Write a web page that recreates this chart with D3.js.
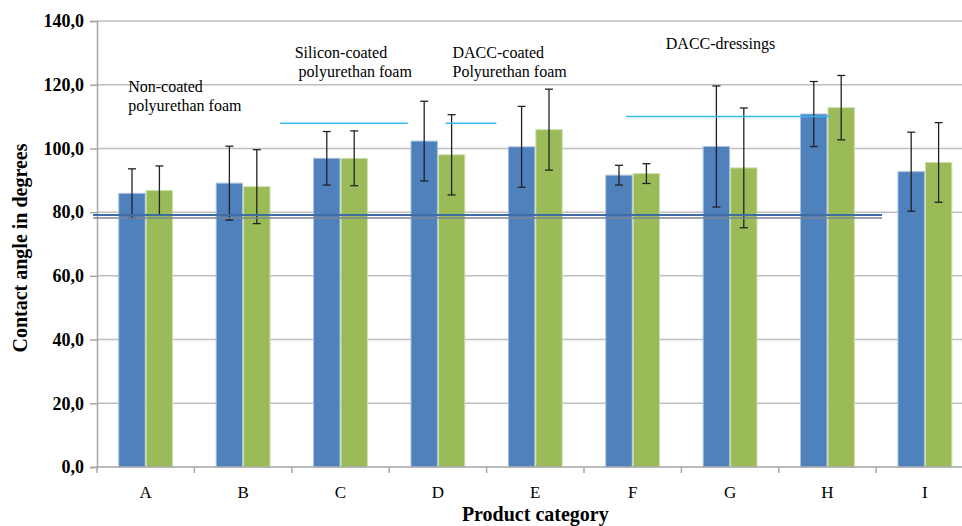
<!DOCTYPE html>
<html>
<head>
<meta charset="utf-8">
<script src="https://cdn.jsdelivr.net/npm/d3@7/dist/d3.min.js"></script>
<style>
  html, body { margin: 0; padding: 0; background: #fff; }
  svg { display: block; }
  text { font-family: "Liberation Serif", "Times New Roman", serif; fill: #000; }
</style>
</head>
<body>
<svg id="chart" width="962" height="526"></svg>
<script>
// ---- data ----
const categories = ["A", "B", "C", "D", "E", "F", "G", "H", "I"];
const seriesNames = ["Series 1", "Series 2"];
const values1 = [85.9, 89.1, 96.9, 102.3, 100.5, 91.6, 100.6, 110.8, 92.7];
const errors1 = [7.7, 11.6, 8.4, 12.5, 12.7, 3.1, 19.0, 10.2, 12.4];
const values2 = [86.8, 88.0, 96.9, 98.0, 105.9, 92.1, 93.9, 112.8, 95.6];
const errors2 = [7.7, 11.6, 8.6, 12.6, 12.7, 3.1, 18.8, 10.1, 12.5];
const yTicks = [0, 20, 40, 60, 80, 100, 120, 140];
// reference lines: value, start / end in category units
const groupLines = [
  { value: 107.9, from: 1.88, to: 3.19 },
  { value: 107.9, from: 3.58, to: 4.10 },
  { value: 110.0, from: 5.43, to: 7.53 }
];
const baseLines = [
  { value: 79.1, from: -0.04, to: 8.06, kind: "blue" },
  { value: 78.2, from: -0.04, to: 8.06, kind: "gray" }
];
// annotation labels: position in category units / value units
const annotations = [
  { text: "Non-coated", x: 0.32, y: 117.7 },
  { text: "polyurethan foam", x: 0.32, y: 111.7 },
  { text: "Silicon-coated", x: 2.03, y: 128.3 },
  { text: "polyurethan foam", x: 2.07, y: 122.3 },
  { text: "DACC-coated", x: 3.65, y: 128.3 },
  { text: "Polyurethan foam", x: 3.65, y: 122.3 },
  { text: "DACC-dressings", x: 5.84, y: 131.1 }
];

// ---- layout ----
const colors = ["#4f81bd", "#9bbb59"];
const plotLeft = 97, plotTop = 21, plotBottom = 467;
const step = 97.4;
const plotRight = plotLeft + step * categories.length;

const svg = d3.select("#chart");

const y = d3.scaleLinear().domain([0, 140]).range([plotBottom, plotTop]);
const xc = d3.scaleLinear().domain([0, categories.length]).range([plotLeft, plotRight]);
const x0 = d3.scaleBand().domain(categories).range([plotLeft, plotRight])
  .paddingInner(0.437).paddingOuter(0.2185);
const x1 = d3.scaleBand().domain([0, 1]).range([0, x0.bandwidth()]);

// gridlines
svg.append("g").selectAll("line").data(yTicks.filter(d => d > 0)).join("line")
  .attr("x1", plotLeft).attr("x2", 962)
  .attr("y1", d => y(d)).attr("y2", d => y(d))
  .attr("stroke", "#bfbfbf").attr("stroke-width", 1.5);

// y axis
const yAxis = svg.append("g").attr("transform", `translate(${plotLeft},0)`)
  .call(d3.axisLeft(y).tickValues(yTicks).tickSize(7).tickPadding(6)
    .tickFormat(d => d3.format(".1f")(d).replace(".", ",")));
yAxis.select(".domain").attr("stroke", "#a6a6a6").attr("stroke-width", 1.5);
yAxis.selectAll(".tick line").attr("stroke", "#a6a6a6").attr("stroke-width", 1.5);
yAxis.selectAll(".tick text")
  .style("font-family", "'Liberation Serif', serif")
  .style("font-size", "18px").style("font-weight", "bold").attr("fill", "#000");

// bars
const data = categories.map((c, i) => ({
  cat: c,
  items: [
    { s: 0, v: values1[i], e: errors1[i] },
    { s: 1, v: values2[i], e: errors2[i] }
  ]
}));

const groups = svg.append("g").selectAll("g").data(data).join("g")
  .attr("transform", d => `translate(${x0(d.cat)},0)`);

groups.selectAll("rect").data(d => d.items).join("rect")
  .attr("x", d => x1(d.s) + 0.5)
  .attr("width", x1.bandwidth() - 1)
  .attr("y", d => y(d.v))
  .attr("height", d => y(0) - y(d.v))
  .attr("fill", d => colors[d.s])
  .attr("stroke", d => d.s === 0 ? "#a9c0e0" : "#cfe0ae")
  .attr("stroke-width", 1);

// x axis
const xAxisG = svg.append("g").attr("transform", `translate(0,${plotBottom})`);
xAxisG.append("line").attr("x1", plotLeft).attr("x2", 962)
  .attr("y1", 0).attr("y2", 0).attr("stroke", "#a6a6a6").attr("stroke-width", 1.5);
xAxisG.selectAll("line.tk").data(d3.range(categories.length + 1)).join("line")
  .attr("class", "tk")
  .attr("x1", d => xc(d)).attr("x2", d => xc(d))
  .attr("y1", 0).attr("y2", 6)
  .attr("stroke", "#a6a6a6").attr("stroke-width", 1.5);
xAxisG.selectAll("text").data(categories).join("text")
  .attr("x", d => x0(d) + x0.bandwidth() / 2)
  .attr("y", 31)
  .attr("text-anchor", "middle")
  .style("font-size", "17px")
  .text(d => d);

// base lines near 80
svg.append("g").selectAll("line").data(baseLines).join("line")
  .attr("x1", d => xc(d.from)).attr("x2", d => xc(d.to))
  .attr("y1", d => y(d.value)).attr("y2", d => y(d.value))
  .attr("stroke", d => d.kind === "blue" ? "#3f6ca3" : "#7f8590")
  .attr("stroke-width", d => d.kind === "blue" ? 2.2 : 1.5);

// error bars
const eb = groups.selectAll("g.err").data(d => d.items).join("g").attr("class", "err");
eb.append("line")
  .attr("x1", d => x1(d.s) + x1.bandwidth() / 2)
  .attr("x2", d => x1(d.s) + x1.bandwidth() / 2)
  .attr("y1", d => y(d.v + d.e)).attr("y2", d => y(d.v - d.e))
  .attr("stroke", "#222").attr("stroke-width", 1.3);
eb.selectAll("line.cap").data(d => [d.v + d.e, d.v - d.e].map(v => ({ v, s: d.s }))).join("line")
  .attr("class", "cap")
  .attr("x1", d => x1(d.s) + x1.bandwidth() / 2 - 4)
  .attr("x2", d => x1(d.s) + x1.bandwidth() / 2 + 4)
  .attr("y1", d => y(d.v)).attr("y2", d => y(d.v))
  .attr("stroke", "#222").attr("stroke-width", 1.3);

// group reference lines (cyan)
svg.append("g").selectAll("line").data(groupLines).join("line")
  .attr("x1", d => xc(d.from)).attr("x2", d => xc(d.to))
  .attr("y1", d => y(d.value)).attr("y2", d => y(d.value))
  .attr("stroke", "#3ab8ec").attr("stroke-width", 1.5);

// annotations
svg.append("g").selectAll("text").data(annotations).join("text")
  .attr("x", d => xc(d.x)).attr("y", d => y(d.y))
  .style("font-size", "16px")
  .text(d => d.text);

// axis titles
svg.append("text")
  .attr("x", xc(categories.length / 2)).attr("y", 521)
  .attr("text-anchor", "middle")
  .style("font-size", "20px").style("font-weight", "bold")
  .text("Product category");

svg.append("text")
  .attr("transform", `translate(27,${(plotTop + plotBottom) / 2 + 4}) rotate(-90)`)
  .attr("text-anchor", "middle")
  .style("font-size", "20px").style("font-weight", "bold")
  .text("Contact angle in degrees");
</script>
</body>
</html>
